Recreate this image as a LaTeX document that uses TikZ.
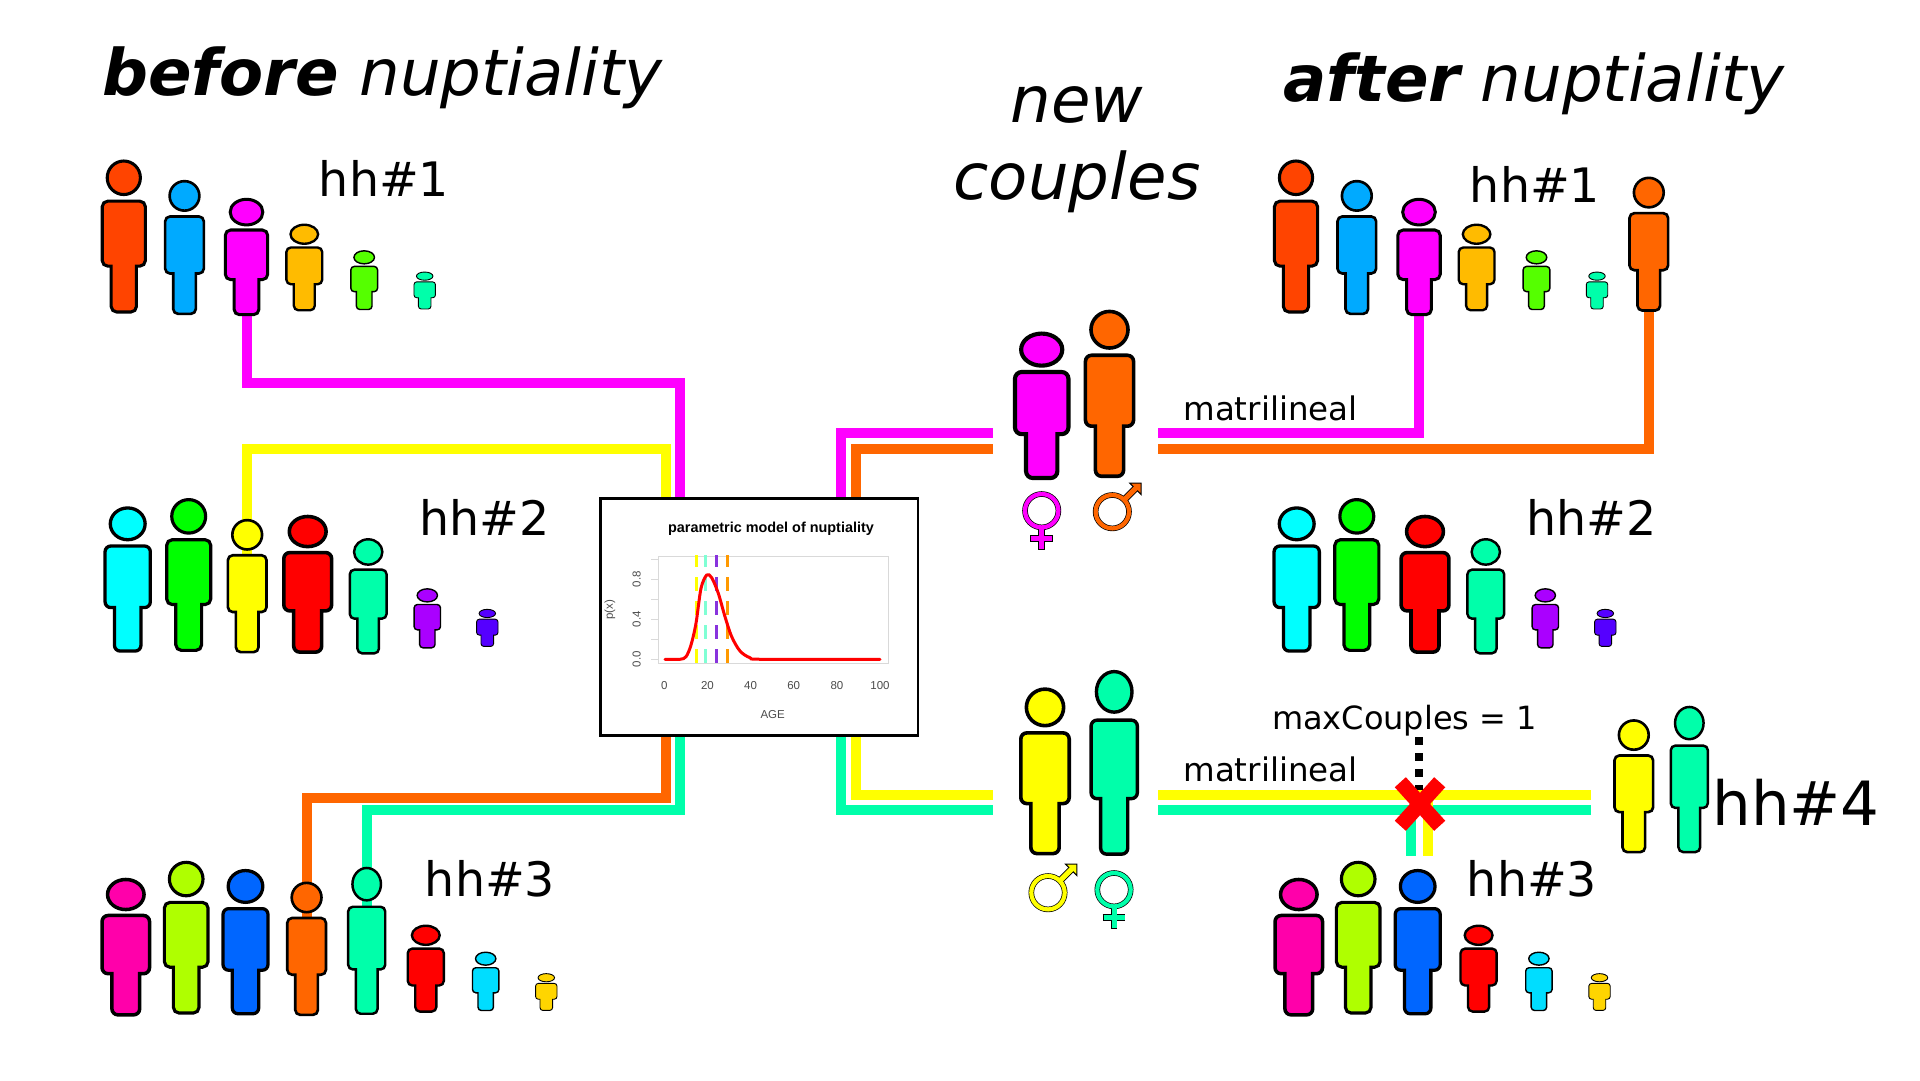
\documentclass[tikz,border=0pt]{standalone}
\usepackage{fontspec}
\setmainfont{DejaVu Sans}
\newfontfamily\plotfont{Liberation Sans}
\usetikzlibrary{backgrounds,shapes.misc}
\definecolor{pRedOrange}{HTML}{FF4400}
\definecolor{pSky}{HTML}{00AAFF}
\definecolor{pMagenta}{HTML}{FF00FF}
\definecolor{pAmber}{HTML}{FFBB00}
\definecolor{pLeaf}{HTML}{55FF00}
\definecolor{pMint}{HTML}{00FFAA}
\definecolor{pCyan}{HTML}{00FFFF}
\definecolor{pGreen}{HTML}{00FF00}
\definecolor{pYellow}{HTML}{FFFF00}
\definecolor{pRed}{HTML}{FF0000}
\definecolor{pPurple}{HTML}{AA00FF}
\definecolor{pIndigo}{HTML}{5500FF}
\definecolor{pPink}{HTML}{FF00AA}
\definecolor{pLime}{HTML}{AFFF00}
\definecolor{pBlue}{HTML}{0066FF}
\definecolor{pOrange}{HTML}{FF6600}
\definecolor{pAzure}{HTML}{00DDFF}
\definecolor{pGold}{HTML}{FFD500}
\definecolor{mAqua}{HTML}{7FFFD4}
\definecolor{mViolet}{HTML}{8833DD}
\definecolor{mTan}{HTML}{FF9900}
\tikzset{
  titlelabel/.style={font=\fontsize{64.2}{77}\selectfont\itshape, inner sep=0pt},
  hhlabel/.style={font=\fontsize{47.5}{58}\selectfont, anchor=base, inner sep=0pt},
  smalllabel/.style={font=\fontsize{32.5}{40}\selectfont, anchor=base, inner sep=0pt},
  link/.style={line width=10pt, draw=#1},
  plottext/.style={font=\plotfont\fontsize{11.5}{13}\selectfont, text=black!70, inner sep=0pt},
  agemark/.style={line width=3pt, draw=#1, dash pattern=on 14pt off 10pt, dash phase=1.7pt},
  crossmark/.style={cross out, draw=pRed, line width=15pt, minimum width=39.4pt, minimum height=43.6pt, inner sep=0pt, outer sep=0pt},
}
% name, centre x, body width, top, bottom, colour
\newcommand{\person}[6]{%
  \pgfmathsetmacro{\pxs}{#3/46}
  \pgfmathsetmacro{\pys}{(#5-#4)/153}
  \pgfmathsetmacro{\plw}{0.9+(#3-22.7)*0.095}
  \pgfmathsetmacro{\prc}{0.12*#3}
  \coordinate (#1) at (#2,{(#4+#5)/2});
  \begin{scope}[shift={(#2,#5)},xscale=\pxs,yscale=\pys]
    \draw[line width=\plw pt, fill=#6]
      (0,-1.3) [rounded corners=\prc pt] -- (-12.7,-1.3) [sharp corners] -- (-12.7,-47)
      [rounded corners=\prc pt] -- (-21.7,-47) -- (-21.7,-111.7) -- (21.7,-111.7) -- (21.7,-47)
      [sharp corners] -- (12.7,-47) [rounded corners=\prc pt] -- (12.7,-1.3) -- cycle;
    \draw[line width=\plw pt, fill=#6] (0,-135) ellipse [x radius=16.7, y radius=16.7];
  \end{scope}}
% name, ring centre x, y, colour
\newcommand{\venus}[4]{%
  \coordinate (#1) at (#2,#3);
  \begin{scope}[shift={(#2,#3)}]
    \draw[line width=5.6pt] (0,0) circle [radius=16.7];
    \draw[line width=6.8pt] (0,16) -- (0,39.3) (-11.3,27.6) -- (11.3,27.6);
    \draw[line width=4.2pt, #4] (0,0) circle [radius=16.7];
    \draw[line width=5pt, #4] (0,16) -- (0,38.5) (-10.5,27.6) -- (10.5,27.6);
  \end{scope}}
\newcommand{\mars}[4]{%
  \coordinate (#1) at (#2,#3);
  \begin{scope}[shift={(#2,#3)}]
    \draw[line width=5.6pt] (0,0) circle [radius=16.7];
    \draw[line width=6.8pt] (11,-11) -- (24,-24);
    \draw[line width=1pt, fill=#4] (28.9,-28.5) -- (17.5,-28.5) -- (28.9,-17.1) -- cycle;
    \draw[line width=4.2pt, #4] (0,0) circle [radius=16.7];
    \draw[line width=5pt, #4] (11,-11) -- (24,-24);
  \end{scope}}
\begin{document}
\begin{tikzpicture}[x=1pt, y=-1pt]
  \begin{pgfonlayer}{background}
    \fill[white] (0,0) rectangle (1920,1080);
  \end{pgfonlayer}
  \useasboundingbox (0,0) rectangle (1920,1080);

  % --- headings ---
  \node[titlelabel, anchor=base west] (before) at (102,95.5) {\textbf{before} nuptiality};
  \node[titlelabel, anchor=base west] (after) at (1283,101) {\textbf{after} nuptiality};
  \node[titlelabel, anchor=center, align=center] (couples) at (1077,150) {new\\couples};

  % --- households before ---
  \foreach \nm/\cx/\bw/\tp/\bt/\col in {
    a1/123.8/45.7/159.7/313.3/pRedOrange, a2/184.5/41/180/315/pSky, a3/246.5/45/198.3/315.7/pMagenta,
    a4/304.3/38/224/311/pAmber, a5/364.2/28.3/250.3/310/pLeaf, a6/424.7/22.7/271.7/309.3/pMint,
    b1/127.7/48/506.7/652.3/pCyan, b2/188.7/46.7/498.3/651.7/pGreen, b3/247.2/41/519/653.3/pYellow,
    b4/307.7/50.7/515.3/653.3/pRed, b5/368.2/39/538.3/654.3/pMint, b6/427.3/28/588.3/648.3/pPurple,
    b7/487.3/22.7/609/646.7/pIndigo,
    c1/125.8/50.3/878.3/1016/pPink, c2/186.2/46.3/861/1014.3/pLime, c3/245.5/47.7/869.3/1015/pBlue,
    c4/306.6/41/881.7/1016/pOrange, c5/366.7/39.3/866.7/1015/pMint, c6/425.8/38.3/925/1012.3/pRed,
    c7/485.7/28/951.7/1011/pAzure, c8/546.3/22.7/973.3/1010.7/pGold}
    {\person{\nm}{\cx}{\bw}{\tp}{\bt}{\col}}
  \node[hhlabel] (hhA) at (384,196.7) {hh\#1};
  \node[hhlabel] (hhB) at (484.5,535) {hh\#2};
  \node[hhlabel] (hhC) at (490,896.7) {hh\#3};

  % --- new couples ---
  \person{newF}{1041.7}{56.7}{332.3}{479.3}{pMagenta}
  \person{newM}{1109.5}{51}{310}{477.7}{pOrange}
  \person{newY}{1045}{51.3}{687.7}{855}{pYellow}
  \person{newT}{1114.2}{49}{670}{855.7}{pMint}
  \venus{symF}{1041.7}{510.7}{pMagenta}
  \mars{symM}{1112.3}{511.7}{pOrange}
  \mars{symY}{1048}{892.7}{pYellow}
  \venus{symT}{1114}{889.7}{pMint}

  % --- households after ---
  \foreach \nm/\cx/\bw/\tp/\bt/\col in {
    d1/1296/45.7/159.7/313.3/pRedOrange, d2/1356.8/41/180/315/pSky, d3/1419/45/198.3/315.7/pMagenta,
    d4/1476.6/38/224/311/pAmber, d5/1536.5/28.3/250.3/310/pLeaf, d6/1597/22.7/271.7/309.3/pMint,
    d7/1648.8/41/176.7/311.7/pOrange,
    e1/1296.7/48/506.7/652.3/pCyan, e2/1356.8/46.7/498.3/651.7/pGreen, e3/1425/50.7/515.3/653.3/pRed,
    e4/1485.8/39/538.3/654.3/pMint, e5/1545.3/28/588.3/648.3/pPurple, e6/1605.3/22.7/609/646.7/pIndigo,
    f1/1298.8/50.3/878.3/1016/pPink, f2/1358.2/46.3/861/1014.3/pLime, f3/1417.7/47.7/869.3/1015/pBlue,
    f4/1478.6/38.3/925/1012.3/pRed, f5/1538.9/28/951.7/1011/pAzure, f6/1599.5/22.7/973.3/1010.7/pGold,
    g1/1633.8/41/719.3/853.3/pYellow, g2/1689.3/39.3/705.7/853.3/pMint}
    {\person{\nm}{\cx}{\bw}{\tp}{\bt}{\col}}
  \node[hhlabel] (hhD) at (1535,202.7) {hh\#1};
  \node[hhlabel] (hhE) at (1591.5,535) {hh\#2};
  \node[hhlabel] (hhF) at (1532,896.7) {hh\#3};
  \node[hhlabel, font=\fontsize{61}{70}\selectfont] (hhG) at (1796,825) {hh\#4};

  \node[smalllabel] (matriA) at (1270.5,420) {matrilineal};
  \node[smalllabel] (matriB) at (1270.5,781) {matrilineal};
  \node[smalllabel, font=\fontsize{32}{40}\selectfont] (maxc) at (1404.5,729.3) {maxCouples = 1};

  % --- plot of the model ---
  \node[draw, fill=white, line width=2.6pt, minimum width=317.7pt, minimum height=237pt, inner sep=0pt] (plotbox) at (759.2,617) {};
  \node[font=\plotfont\bfseries\fontsize{14.4}{16}\selectfont, anchor=base, inner sep=0pt] (plottitle) at (771,532.5) {parametric model of nuptiality};
  \draw[black!15, line width=1pt] (658.3,556) rectangle (888.3,663.3);
  \foreach \yv in {559.3,579.3,...,659.4} {\draw[black!15, line width=1pt] (651,\yv) -- (658.3,\yv);}
  \draw[agemark=pYellow] (696.7,555) -- (696.7,663.3);
  \draw[agemark=mAqua] (705,555) -- (705,663.3);
  \draw[agemark=mViolet] (716,555) -- (716,663.3);
  \draw[agemark=mTan] (727,555) -- (727,663.3);
  \draw[pRed, line width=3pt, line cap=round] plot[smooth, tension=0.5] coordinates {(665,659.3) (680,659.3) (686,656.7) (691,645) (696,623.3) (701,588.3) (706.7,575) (711.7,577.7) (718.3,593.3) (725,616.7) (731.7,636.7) (740,651) (750,657.7) (763.3,659.3) (880,659.3)};
  \foreach \tk/\xv in {0/664.3, 20/707.4, 40/750.6, 60/793.7, 80/836.9, 100/880} {\node[plottext, anchor=base] (tick\tk) at (\xv,689.3) {\tk};}
  \foreach \tk/\yv in {0.0/659.3, 0.4/619.3, 0.8/579.3} {\node[plottext, rotate=90] (ytick\tk) at (636.7,\yv) {\tk};}
  \node[plottext, rotate=90] (ylabel) at (610,610) {p(x)};
  \node[plottext, anchor=base] (xlabel) at (772.7,718.3) {AGE};

  % --- free ends of the links ---
  \coordinate (topYe) at (666,498);
  \coordinate (topMa) at (680,498);
  \coordinate (topMb) at (841,498);
  \coordinate (topOb) at (856,498);
  \coordinate (lowOr) at (666,736);
  \coordinate (lowTe) at (680,736);
  \coordinate (lowTb) at (841,736);
  \coordinate (lowYb) at (856,736);
  \coordinate (inMa) at (993,433);
  \coordinate (inOr) at (993,449);
  \coordinate (inYe) at (993,795);
  \coordinate (inTe) at (993,810);
  \coordinate (outMa) at (1158,433);
  \coordinate (outOr) at (1158,449);
  \coordinate (outYe) at (1158,795);
  \coordinate (outTe) at (1158,810);
  \coordinate (endYe) at (1591,795);
  \coordinate (endTe) at (1591,810);
  \coordinate (dropYe) at (1428,795);
  \coordinate (dropTe) at (1411,810);
  \coordinate (dropYf) at (1428,856);
  \coordinate (dropTf) at (1411,856);
  \coordinate (dotTop) at (1419,737.3);

  % --- links, behind the people ---
  \begin{pgfonlayer}{background}
    \draw[link=pMagenta] (a3) -- (a3 |- 0,383) -| (topMa);
    \draw[link=pYellow] (b3) -- (b3 |- 0,449) -| (topYe);
    \draw[link=pOrange] (c4) -- (c4 |- 0,798) -| (lowOr);
    \draw[link=pMint] (c5) -- (c5 |- 0,810) -| (lowTe);
    \draw[link=pMagenta] (topMb) |- (inMa);
    \draw[link=pOrange] (topOb) |- (inOr);
    \draw[link=pMint] (lowTb) |- (inTe);
    \draw[link=pYellow] (lowYb) |- (inYe);
    \draw[link=pMagenta] (outMa) -| (d3);
    \draw[link=pOrange] (outOr) -| (d7);
    \draw[link=pYellow] (outYe) -- (endYe);
    \draw[link=pMint] (outTe) -- (endTe);
    \draw[link=pMint] (dropTe) -- (dropTf);
    \draw[link=pYellow] (dropYe) -- (dropYf);
    \draw[line width=8pt, dash pattern=on 8pt off 8pt] (dotTop) -- (dotTop |- 0,790);
  \end{pgfonlayer}

  % --- refused couple ---
  \node[crossmark] (xmark) at (1420,804) {};
\end{tikzpicture}
\end{document}
